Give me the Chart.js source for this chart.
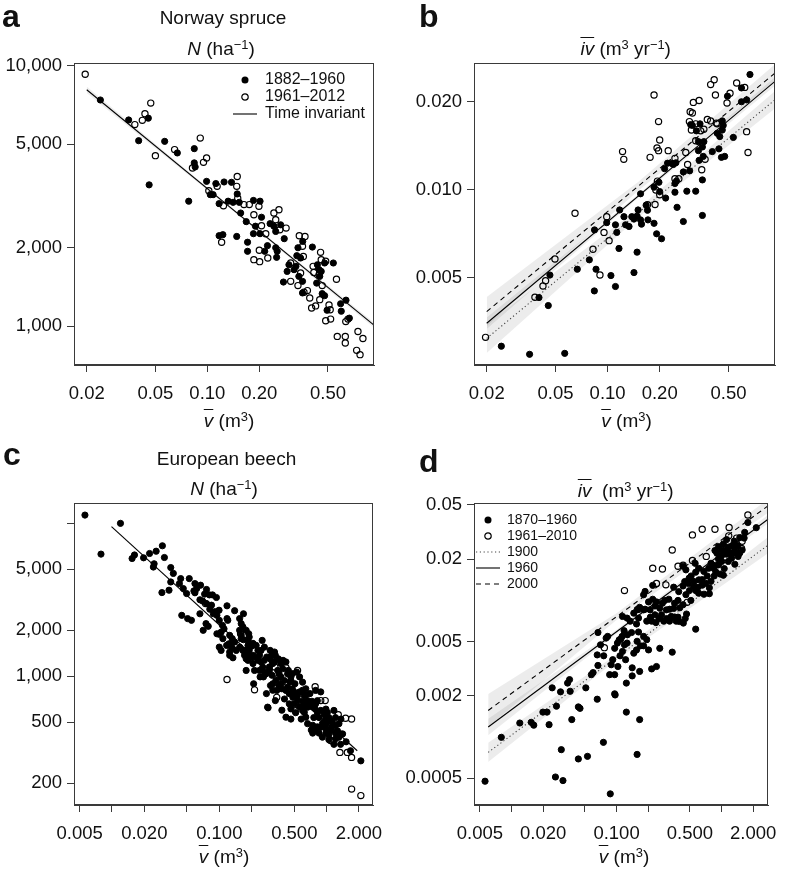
<!DOCTYPE html>
<html><head><meta charset="utf-8">
<script src="https://cdn.jsdelivr.net/npm/chart.js@4.4.1/dist/chart.umd.min.js"></script>
<style>
html,body{margin:0;padding:0;background:#fff;}
#wrap{position:relative;width:788px;height:869px;overflow:hidden;background:#fff;}
canvas{position:absolute;}
.t{position:absolute;white-space:nowrap;line-height:1;font-family:"Liberation Sans",Arial,Helvetica,sans-serif;color:#111;transform:translateX(-50%);font-size:19px;}
.t sup{font-size:0.68em;line-height:0;vertical-align:0.48em;}
.ov{text-decoration:overline;text-decoration-thickness:1px;font-style:italic;}
.lt{position:absolute;font-family:"Liberation Sans",Arial,Helvetica,sans-serif;font-weight:bold;font-size:32px;line-height:1;color:#111;}
</style></head>
<body><div id="wrap">
<canvas id="ca" width="394" height="405" style="left:0;top:0"></canvas>
<canvas id="cb" width="394" height="405" style="left:394px;top:0"></canvas>
<canvas id="cc" width="394" height="405" style="left:0;top:440px"></canvas>
<canvas id="cd" width="394" height="405" style="left:394px;top:440px"></canvas>

<div class="lt" style="left:2px;top:0px">a</div>
<div class="lt" style="left:419px;top:0px">b</div>
<div class="lt" style="left:3px;top:437.9px">c</div>
<div class="lt" style="left:419px;top:444.9px">d</div>

<div class="t" style="left:223px;top:7.9px">Norway spruce</div>
<div class="t" style="left:221px;top:38.9px"><i>N</i> (ha<sup>−1</sup>)</div>
<div class="t" style="left:625.7px;top:38.9px"><span class="ov">iv</span> (m<sup>3</sup> yr<sup>−1</sup>)</div>
<div class="t" style="left:226.5px;top:448.9px">European beech</div>
<div class="t" style="left:224px;top:478.9px"><i>N</i> (ha<sup>−1</sup>)</div>
<div class="t" style="left:625.7px;top:480.6px"><span class="ov">iv</span>&nbsp; (m<sup>3</sup> yr<sup>−1</sup>)</div>

<div class="t" style="left:229px;top:410.6px"><span class="ov">v</span> (m<sup>3</sup>)</div>
<div class="t" style="left:626.5px;top:410.6px"><span class="ov">v</span> (m<sup>3</sup>)</div>
<div class="t" style="left:224px;top:846.9px"><span class="ov">v</span> (m<sup>3</sup>)</div>
<div class="t" style="left:624px;top:846.9px"><span class="ov">v</span> (m<sup>3</sup>)</div>
</div>
<script>
// ---------------- Panel a: Norway spruce, stand density N vs mean tree volume ----------------
const spruceN1882 = [[0.024,7400],[0.035,6200],[0.0455,6300],[0.040,5160],[0.0566,5130],[0.067,4630],[0.046,3490],[0.078,3020],[0.084,4810],[0.084,4240],[0.085,4090],[0.099,3600],[0.104,3200],[0.112,3530],[0.125,3580],[0.138,3570],[0.149,3220],[0.108,3200],[0.117,2955],[0.132,3020],[0.141,2990],[0.153,2990],[0.156,2720],[0.185,3040],[0.202,3020],[0.206,2620],[0.168,2520],[0.190,2420],[0.185,2265],[0.202,2265],[0.231,2475],[0.243,2420],[0.266,2450],[0.249,2310],[0.279,2167],[0.171,2100],[0.171,1938],[0.223,2037],[0.215,1938],[0.249,2000],[0.254,1938],[0.252,1837],[0.148,2210],[0.117,2225],[0.123,2245],[0.357,2115],[0.335,2000],[0.406,2012],[0.33,1864],[0.347,1826],[0.297,1720],[0.326,1696],[0.29,1622],[0.318,1647],[0.339,1552],[0.276,1476],[0.356,1485],[0.356,1340],[0.444,1647],[0.434,1720],[0.448,1552],[0.478,1747],[0.537,1747],[0.457,1622],[0.43,1462],[0.463,1332],[0.478,1308],[0.494,1150],[0.592,1218],[0.636,1257],[0.597,1140],[0.665,1072]];
const spruceN1961 = [[0.0196,9300],[0.038,5950],[0.042,6180],[0.0435,6550],[0.047,7200],[0.050,4520],[0.0646,4770],[0.091,5280],[0.099,4430],[0.095,4260],[0.082,4050],[0.102,3315],[0.114,3445],[0.149,3760],[0.148,3445],[0.150,3100],[0.124,2900],[0.163,2930],[0.175,2930],[0.199,2885],[0.186,2680],[0.206,2430],[0.218,2265],[0.243,2720],[0.26,2800],[0.249,2565],[0.263,2345],[0.286,2380],[0.121,2100],[0.2,1955],[0.186,1800],[0.201,1768],[0.224,1826],[0.341,2225],[0.368,2210],[0.356,2025],[0.453,1920],[0.36,1850],[0.304,1747],[0.347,1598],[0.304,1485],[0.335,1430],[0.363,1348],[0.38,1368],[0.414,1607],[0.41,1696],[0.485,1774],[0.457,1799],[0.444,1575],[0.463,1430],[0.448,1263],[0.392,1282],[0.402,1173],[0.424,1195],[0.507,1205],[0.515,1155],[0.56,1513],[0.485,1048],[0.518,1063],[0.653,1063],[0.634,1040],[0.566,912],[0.63,912],[0.63,860],[0.746,953],[0.797,895],[0.733,806],[0.767,776]];
const spruceNLine = [[0.02,8100],[0.92,1010]];
const spruceNBandHi = [[0.02,8330],[0.15,2729],[0.92,1034]];
const spruceNBandLo = [[0.02,7880],[0.15,2679],[0.92,987]];
const spruceVTicks = [0.02,0.05,0.1,0.2,0.5];
const spruceVLabels = ["0.02","0.05","0.10","0.20","0.50"];
const spruceNTicks = [1000,2000,5000,10000];
const spruceNLabels = ["1,000","2,000","5,000","10,000"];
const spruceNLegend = ["1882\u20131960","1961\u20132012","Time invariant"];

// ---------------- Panel b: Norway spruce, mean volume increment ----------------
const spruceIv1882 = [[0.0243,0.00291],[0.0354,0.00273],[0.0565,0.00275],[0.0454,0.00401],[0.0401,0.00427],[0.0464,0.0051],[0.0668,0.00534],[0.0784,0.00575],[0.0838,0.0045],[0.0857,0.00534],[0.084,0.00728],[0.0988,0.00771],[0.1045,0.00508],[0.111,0.00466],[0.111,0.00758],[0.113,0.00714],[0.1174,0.00852],[0.1163,0.00629],[0.1243,0.00808],[0.127,0.00758],[0.133,0.00748],[0.138,0.00808],[0.142,0.00793],[0.148,0.00812],[0.150,0.00852],[0.155,0.00788],[0.157,0.00762],[0.167,0.00885],[0.171,0.00788],[0.1855,0.00767],[0.192,0.00706],[0.205,0.00679],[0.148,0.00611],[0.142,0.0052],[0.155,0.00968],[0.1855,0.0102],[0.198,0.0106],[0.200,0.00985],[0.2165,0.00936],[0.2135,0.0118],[0.222,0.01232],[0.235,0.0123],[0.24,0.0122],[0.248,0.01236],[0.245,0.0105],[0.25,0.0107],[0.252,0.0087],[0.245,0.0098],[0.274,0.00778],[0.274,0.0115],[0.287,0.00988],[0.298,0.0116],[0.323,0.00988],[0.353,0.0108],[0.353,0.00816],[0.338,0.0126],[0.357,0.0130],[0.335,0.0136],[0.353,0.0140],[0.36,0.0146],[0.335,0.0146],[0.309,0.0166],[0.326,0.0159],[0.342,0.0168],[0.302,0.0167],[0.594,0.0223],[0.665,0.0248],[0.493,0.0209],[0.637,0.0203],[0.594,0.0200],[0.46,0.0172],[0.466,0.0166],[0.43,0.0156],[0.445,0.0152],[0.46,0.0160],[0.533,0.0151],[0.403,0.0135],[0.44,0.0138],[0.455,0.0129],[0.475,0.0130],[0.17,0.0085]];
const spruceIv1961 = [[0.0197,0.00312],[0.038,0.00428],[0.0423,0.00468],[0.0438,0.00488],[0.0496,0.00579],[0.0648,0.0083],[0.0903,0.0051],[0.0823,0.00625],[0.0953,0.00714],[0.0988,0.00808],[0.102,0.00669],[0.170,0.00888],[0.188,0.0089],[0.194,0.0107],[0.19,0.00997],[0.20,0.0096],[0.224,0.0136],[0.245,0.0128],[0.245,0.0109],[0.258,0.0109],[0.29,0.0122],[0.283,0.0134],[0.35,0.0117],[0.366,0.0127],[0.323,0.0147],[0.323,0.0168],[0.305,0.0160],[0.297,0.0171],[0.345,0.0159],[0.36,0.0161],[0.30,0.0185],[0.309,0.0183],[0.313,0.0199],[0.338,0.0202],[0.394,0.0172],[0.425,0.0169],[0.42,0.0211],[0.394,0.0229],[0.413,0.0238],[0.51,0.0214],[0.557,0.0232],[0.62,0.0224],[0.49,0.0198],[0.43,0.0168],[0.636,0.0158],[0.648,0.0134],[0.377,0.0174],[0.197,0.0171],[0.1855,0.0211],[0.2,0.0148],[0.197,0.0136],[0.193,0.0139],[0.176,0.0129],[0.122,0.0135],[0.124,0.0127]];
const spruceIvLine1900 = [[0.02,0.003096],[0.928,0.02032]];
const spruceIvLine1960 = [[0.02,0.003486],[0.928,0.0235]];
const spruceIvLine2000 = [[0.02,0.003823],[0.928,0.02508]];
const spruceIvBand2000Hi = [[0.02,0.00429],[0.15,0.01063],[0.928,0.02687]];
const spruceIvBand2000Lo = [[0.02,0.003407],[0.15,0.00992],[0.928,0.02341]];
const spruceIvBand1960Hi = [[0.02,0.00365],[0.15,0.00963],[0.928,0.02432]];
const spruceIvBand1960Lo = [[0.02,0.00333],[0.15,0.00937],[0.928,0.0227]];
const spruceIvBand1900Hi = [[0.02,0.00347],[0.15,0.0086],[0.928,0.02177]];
const spruceIvBand1900Lo = [[0.02,0.00276],[0.15,0.00803],[0.928,0.01896]];
const spruceIvTicks = [0.005,0.01,0.02];
const spruceIvLabels = ["0.005","0.010","0.020"];

// ---------------- Panel c: European beech, stand density ----------------
const beechN1870 = [[0.0056,11300],[0.012,9975],[0.0079,6280],[0.0154,5880],[0.0162,6200],[0.0197,5940],[0.0224,6340],[0.0258,6560],[0.0295,7120],[0.0308,5970],[0.0247,5430],[0.0243,5170],[0.0353,5130],[0.0373,4700],[0.0353,4130],[0.0437,4345],[0.0425,4030],[0.0525,4345],[0.0292,3520],[0.034,3650],[0.0447,2500],[0.0507,2380],[0.058,3610],[0.0616,3740],[0.0669,3935],[0.0593,3510],[0.066,3160],[0.070,3100],[0.076,3690],[0.0864,3400],[0.094,3270],[0.0846,2913],[0.091,2640],[0.0995,2700],[0.095,2500],[0.118,2885],[0.139,2680],[0.118,2380],[0.120,2320],[0.0752,2206],[0.0789,2120],[0.0708,1996],[0.095,1895],[0.1,1880],[0.104,1940],[0.1107,2040],[0.1547,2380],[0.16,2206],[0.166,2100],[0.178,1996],[0.188,1895],[0.1547,1996],[0.132,1760],[0.125,1590],[0.139,1675],[0.125,1370],[0.144,1475],[0.155,1550],[0.185,1590],[0.19,1475],[0.206,1370],[0.172,1370],[0.178,1300],[0.2207,1590],[0.251,1715],[0.245,1475],[0.263,1550],[0.229,1270],[0.206,1210],[0.213,1091],[0.277,1335],[0.298,1300],[0.333,1370],[0.327,1440],[0.355,1300],[0.315,1210],[0.293,1150],[0.263,1065],[0.258,990],[0.31,1015],[0.36,1040],[0.418,1240],[0.375,990],[0.375,893],[0.383,828],[0.465,990],[0.456,920],[0.525,1065],[0.56,990],[0.48,828],[0.449,770],[0.405,710],[0.333,693],[0.282,628],[0.383,600],[0.485,728],[0.56,790],[0.597,810],[0.64,828],[0.70,770],[0.73,686],[0.64,660],[0.6,686],[0.536,693],[0.59,628],[0.515,578],[0.465,525],[0.58,525],[0.62,580],[0.665,628],[0.742,628],[0.79,660],[0.82,692],[0.882,598],[0.76,537],[0.85,537],[0.95,565],[0.985,530],[0.665,490],[0.742,478],[0.72,445],[0.82,467],[0.914,490],[0.995,490],[1.05,537],[1.17,598],[1.13,500],[1.21,478],[1.304,490],[1.09,445],[0.985,425],[1.05,415],[1.21,425],[1.304,400],[0.914,400],[1.05,385],[1.17,359],[1.35,359],[1.52,373],[0.85,425],[0.742,425],[1.67,326],[2.085,280],[0.285,622],[0.209,893],[0.24,990],[0.3,870],[0.343,808],[0.418,808],[0.449,660],[0.315,893],[0.178,1091],[0.185,1270],[0.117,1590],[0.1,1550],[0.0593,4030],[0.073,3440],[0.081,3400],[0.16,1760],[0.19,1804],[0.229,1475],[0.237,1370],[0.298,1475],[0.31,1370],[0.375,1210],[0.393,1270],[0.48,1040],[0.44,1091],[0.507,893],[0.597,915],[0.64,755],[0.5,660],[0.465,612],[0.418,540],[0.79,808],[0.882,790],[0.82,580],[0.985,610],[1.21,537],[1.36,525],[1.21,390],[1.41,420],[0.985,455],[0.64,540],[0.275,770],[0.337,940],[0.315,810],[0.178,1475],[0.125,1850],[0.108,1760],[0.104,1475],[0.055,2320],[0.088,2560],[0.066,2560],[0.168,2560],[0.206,1640],[0.263,1270],[0.327,1240],[0.123,1630],[0.132,1530],[0.125,1440],[0.134,1320],[0.16,1850],[0.168,1733],[0.185,1716],[0.2,1572],[0.166,1475],[0.185,1368],[0.2,1321],[0.224,1321],[0.245,1241],[0.254,1147],[0.237,1091],[0.273,1037],[0.293,1091],[0.35,1091],[0.39,1119],[0.433,1037],[0.465,938],[0.404,938],[0.359,870],[0.433,848],[0.5,787],[0.536,748],[0.618,748],[0.664,694],[0.696,660],[0.597,597],[0.556,634],[0.781,612],[1.017,580],[1.09,513],[0.947,500],[0.882,464],[0.79,441],[1.113,464],[1.26,441],[1.35,420],[0.0462,3740],[0.0496,3470],[0.076,2983],[0.0816,2740],[0.1,2320],[0.107,2150]];
const beechN1961 = [[0.0744,2983],[0.158,1895],[0.31,1270],[0.33,1150],[0.418,1135],[0.536,1091],[0.343,728],[0.782,855],[0.51,595],[0.882,693],[0.97,693],[1.284,560],[1.503,531],[1.709,525],[1.09,380],[1.33,318],[1.56,318],[1.709,295],[1.71,183],[2.085,166],[0.118,952],[0.213,815]];
const beechNLine = [[0.0099,9490],[1.93,326]];
const beechVTicks = [0.005,0.01,0.02,0.05,0.1,0.2,0.5,1,2];
const beechVLabels = ["0.005","","0.020","","0.100","","0.500","","2.000"];
const beechNTicks = [200,500,1000,2000,5000,10000];
const beechNLabels = ["200","500","1,000","2,000","5,000",""];

// ---------------- Panel d: European beech, mean volume increment ----------------
const beechIv1870 = [[0.0056,0.000474],[0.008,0.000994],[0.012,0.001265],[0.0154,0.00128],[0.0163,0.00122],[0.0228,0.00123],[0.0199,0.00152],[0.0218,0.00152],[0.0268,0.00168],[0.0244,0.00229],[0.0293,0.00214],[0.0342,0.00248],[0.0357,0.00263],[0.0362,0.00216],[0.0375,0.00134],[0.0433,0.00166],[0.0449,0.00162],[0.051,0.00229],[0.0655,0.00189],[0.0576,0.00286],[0.0598,0.00296],[0.0665,0.00334],[0.0665,0.00582],[0.0704,0.00473],[0.0755,0.00393],[0.0796,0.0053],[0.086,0.00286],[0.096,0.00286],[0.096,0.00207],[0.097,0.00203],[0.089,0.00338],[0.092,0.00368],[0.103,0.00328],[0.108,0.00393],[0.1096,0.0052],[0.118,0.006],[0.119,0.00473],[0.122,0.00368],[0.124,0.00248],[0.124,0.00152],[0.141,0.00321],[0.141,0.0028],[0.139,0.00582],[0.146,0.00411],[0.155,0.00434],[0.157,0.00502],[0.162,0.00587],[0.166,0.00302],[0.166,0.00134],[0.157,0.000745],[0.169,0.00465],[0.181,0.00465],[0.181,0.00545],[0.194,0.00516],[0.2017,0.00434],[0.216,0.00315],[0.24,0.00328],[0.258,0.00446],[0.339,0.00418],[0.567,0.00616],[0.075,0.000913],[0.0298,0.000807],[0.0433,0.00069],[0.0529,0.000721],[0.0262,0.000509],[0.0309,0.000479],[0.0872,0.000383],[0.0655,0.00399],[0.096,0.00446],[0.106,0.00514],[0.113,0.00545],[0.181,0.011],[0.2017,0.00975],[0.221,0.0102],[0.24,0.00975],[0.232,0.0091],[0.2735,0.00954],[0.258,0.00877],[0.187,0.00862],[0.21,0.00754],[0.194,0.00705],[0.216,0.00705],[0.237,0.00688],[0.254,0.00737],[0.282,0.00705],[0.3,0.00737],[0.32,0.00705],[0.357,0.00754],[0.385,0.00754],[0.37,0.00705],[0.32,0.00862],[0.35,0.00874],[0.4,0.00883],[0.451,0.00737],[0.464,0.00795],[0.357,0.00954],[0.385,0.01],[0.43,0.0093],[0.315,0.0102],[0.288,0.01],[0.391,0.0116],[0.43,0.01276],[0.446,0.01375],[0.486,0.0133],[0.494,0.0118],[0.54,0.01264],[0.567,0.0118],[0.596,0.0125],[0.654,0.01293],[0.605,0.0113],[0.68,0.0111],[0.765,0.0112],[0.765,0.01237],[0.706,0.01335],[0.793,0.0138],[0.513,0.0151],[0.567,0.0161],[0.605,0.0172],[0.56,0.0187],[0.4575,0.01674],[0.654,0.0142],[0.73,0.0151],[0.85,0.0151],[0.88,0.0162],[0.97,0.0156],[1.04,0.0153],[1.06,0.0171],[0.88,0.0181],[0.793,0.0187],[0.935,0.0201],[1.0,0.0212],[1.118,0.0218],[1.2,0.0224],[1.29,0.0222],[1.38,0.0224],[1.337,0.0234],[1.08,0.0234],[1.16,0.0246],[1.26,0.0252],[1.43,0.0252],[1.04,0.0259],[0.935,0.0248],[0.865,0.0232],[1.118,0.0279],[1.32,0.0272],[1.49,0.0289],[1.66,0.0315],[1.64,0.0286],[1.78,0.0372],[2.14,0.0341],[1.337,0.0184],[1.57,0.0234],[0.43,0.0178],[0.4575,0.01102],[0.51,0.01],[0.35,0.0125],[0.221,0.01289],[0.187,0.01163],[0.166,0.0089],[0.157,0.00856],[0.155,0.00672],[0.135,0.00705],[0.127,0.0056],[0.114,0.00763],[0.126,0.00742],[0.146,0.00807],[0.162,0.00742],[0.181,0.00853],[0.2085,0.00853],[0.232,0.00785],[0.268,0.00785],[0.298,0.00853],[0.332,0.00763],[0.397,0.00701],[0.4325,0.00682],[0.491,0.01455],[0.547,0.01376],[0.609,0.01415],[0.678,0.0163],[0.7545,0.0172],[0.84,0.0172],[0.935,0.0182],[1.004,0.0193],[1.159,0.0193],[1.245,0.0204],[1.436,0.021],[1.488,0.0222],[0.902,0.0222],[1.004,0.0234],[0.0823,0.00545],[0.102,0.00487],[0.126,0.00487],[0.114,0.00423]];
const beechIv1961 = [[0.528,0.0302],[0.654,0.0332],[0.865,0.0332],[1.18,0.0342],[1.78,0.0422],[1.17,0.0297],[1.39,0.0286],[1.57,0.0271],[1.55,0.024],[0.339,0.0234],[0.221,0.0172],[0.2735,0.017],[0.385,0.0178],[0.43,0.0181],[0.528,0.0196],[0.715,0.021],[0.119,0.0118],[0.24,0.0133],[0.295,0.013],[0.162,0.00862],[0.47,0.00968],[0.0766,0.00451]];
const beechIvLine1900 = [[0.006,0.000771],[2.79,0.0255]];
const beechIvLine1960 = [[0.006,0.001182],[2.79,0.0395]];
const beechIvLine2000 = [[0.006,0.001564],[2.79,0.04946]];
const beechIvBand2000Hi = [[0.006,0.002062],[0.1,0.00806],[2.79,0.0555]];
const beechIvBand2000Lo = [[0.006,0.001187],[0.1,0.00719],[2.79,0.04408]];
const beechIvBand1960Hi = [[0.006,0.001357],[0.1,0.00611],[2.79,0.04234]];
const beechIvBand1960Lo = [[0.006,0.00103],[0.1,0.0057],[2.79,0.03685]];
const beechIvBand1900Hi = [[0.006,0.000906],[0.1,0.00401],[2.79,0.02927]];
const beechIvBand1900Lo = [[0.006,0.000656],[0.1,0.00366],[2.79,0.02221]];
const beechIvTicks = [0.0005,0.002,0.005,0.02,0.05];
const beechIvLabels = ["0.0005","0.002","0.005","0.02","0.05"];
const beechIvLegend = ["1870\u20131960","1961\u20132010","1900","1960","2000"];

// ---------------- rendering ----------------
const FONT = '"Liberation Sans", Arial, Helvetica, sans-serif';
const INK = '#111';
const AXIS = '#3a3a3a';
const BAND = 'rgba(0,0,0,0.075)';
const DASH = [5, 4];
const DOT = [1.2, 2.6];
const pts = a => a.map(([x, y]) => ({x, y}));

const dots = data => ({ data: pts(data), showLine: false, pointRadius: 3.1, pointBorderWidth: 1, pointBackgroundColor: '#000', pointBorderColor: '#000', order: 0.2 });
const rings = data => ({ data: pts(data), showLine: false, pointRadius: 3.1, pointBorderWidth: 1.2, pointBackgroundColor: 'rgba(0,0,0,0)', pointBorderColor: '#000', order: 0.1 });
const line = (data, dash, color) => ({ type: 'line', data: pts(data), borderColor: color || '#000', borderWidth: 1.1, borderDash: dash || [], pointRadius: 0, fill: false, tension: 0, order: 1 });
const band = (hi, lo) => [
  { type: 'line', data: pts(hi), borderColor: 'rgba(0,0,0,0)', borderWidth: 0.01, pointRadius: 0, tension: 0, fill: '+1', backgroundColor: BAND, order: 2 },
  { type: 'line', data: pts(lo), borderColor: 'rgba(0,0,0,0)', borderWidth: 0.01, pointRadius: 0, tension: 0, fill: false, order: 2 }
];

function symbol(kind, dash) {
  const c = document.createElement('canvas');
  if (kind === 'dot' || kind === 'ring') {
    c.width = 10; c.height = 10;
    const g = c.getContext('2d');
    g.beginPath(); g.arc(5, 5, kind === 'dot' ? 3.5 : 3.2, 0, Math.PI * 2);
    if (kind === 'dot') { g.fillStyle = '#000'; g.fill(); } else { g.lineWidth = 1.2; g.strokeStyle = '#000'; g.stroke(); }
  } else {
    c.width = 24; c.height = 4;
    const g = c.getContext('2d');
    g.strokeStyle = kind === 'dotline' ? '#444' : '#000'; g.lineWidth = 1.1; g.setLineDash(dash || []);
    g.beginPath(); g.moveTo(0, 2); g.lineTo(24, 2); g.stroke();
  }
  return c;
}

const framePlugin = {
  id: 'frame',
  afterDraw(chart) {
    const {ctx, chartArea: a} = chart;
    ctx.save();
    ctx.strokeStyle = AXIS; ctx.lineWidth = 1;
    const l = Math.round(a.left) + 0.5, t = Math.round(a.top) + 0.5, r = Math.round(a.right) - 0.5, b = Math.round(a.bottom) - 0.5;
    ctx.strokeRect(l, t, r - l, b - t);
    ctx.restore();
  }
};
const legendPlacePlugin = {
  id: 'legendPlace',
  afterLayout(chart, args, opts) {
    const L = chart.legend;
    if (!L || !opts || opts.dx === undefined) return;
    const ca = chart.chartArea;
    L.left = ca.left + opts.dx; L.top = ca.top + opts.dy; L.right = ca.right; L.bottom = ca.bottom;
  }
};

function axis(dir, a) {
  return {
    type: 'logarithmic', position: dir === 'x' ? 'bottom' : 'left', min: a.min, max: a.max, bounds: 'data',
    afterBuildTicks: s => { s.ticks = a.ticks.map(v => ({value: v})); },
    afterFit: s => { if (dir === 'x') s.height = a.size; else s.width = a.size; },
    ticks: { autoSkip: false, maxRotation: 0, minRotation: 0, padding: dir === 'x' ? 11 : 5, color: INK,
             font: {family: FONT, size: 18.5}, callback: (v, i) => a.labels[i] },
    grid: { display: true, drawOnChartArea: false, drawTicks: true, tickLength: 7, color: AXIS, lineWidth: 1 },
    border: { display: true, color: AXIS, width: 1 }
  };
}

function legendCfg(texts, syms, size, pad) {
  return {
    display: true, position: 'chartArea', align: 'start',
    labels: {
      usePointStyle: true, pointStyleWidth: 24, padding: pad, color: INK, font: {family: FONT, size: size},
      generateLabels: () => texts.map((t, i) => ({ text: t, pointStyle: syms[i], hidden: false, lineWidth: 0, fontColor: INK, datasetIndex: i }))
    }
  };
}

function makeChart(id, c) {
  return new Chart(document.getElementById(id), {
    type: 'scatter',
    data: { datasets: c.datasets },
    options: {
      responsive: false, animation: false, devicePixelRatio: 1, events: [],
      layout: { padding: c.padding },
      plugins: {
        legend: c.legend || {display: false},
        tooltip: {enabled: false},
        legendPlace: c.place || false
      },
      scales: { x: axis('x', c.x), y: axis('y', c.y) }
    },
    plugins: [framePlugin, legendPlacePlugin]
  });
}

// Panel a
makeChart('ca', {
  padding: {left: 0, right: 20, top: 63, bottom: 0},
  x: {min: 0.01688, max: 0.924, ticks: spruceVTicks, labels: spruceVLabels, size: 40},
  y: {min: 708, max: 10268, ticks: spruceNTicks, labels: spruceNLabels, size: 74},
  datasets: [dots(spruceN1882), rings(spruceN1961), line(spruceNLine), ...band(spruceNBandHi, spruceNBandLo)],
  legend: legendCfg(spruceNLegend, [symbol('dot'), symbol('ring'), symbol('line')], 16, 1),
  place: {dx: 158, dy: 8}
});

// Panel b
makeChart('cb', {
  padding: {left: 0, right: 13, top: 63, bottom: 0},
  x: {min: 0.01689, max: 0.928, ticks: spruceVTicks, labels: spruceVLabels, size: 40},
  y: {min: 0.002509, max: 0.02715, ticks: spruceIvTicks, labels: spruceIvLabels, size: 80},
  datasets: [dots(spruceIv1882), rings(spruceIv1961),
    line(spruceIvLine1900, DOT, '#444'), line(spruceIvLine1960), line(spruceIvLine2000, DASH),
    ...band(spruceIvBand2000Hi, spruceIvBand2000Lo), ...band(spruceIvBand1960Hi, spruceIvBand1960Lo), ...band(spruceIvBand1900Hi, spruceIvBand1900Lo)]
});

// Panel c
makeChart('cc', {
  padding: {left: 0, right: 20, top: 63.3, bottom: 0},
  x: {min: 0.004427, max: 2.713, ticks: beechVTicks, labels: beechVLabels, size: 40},
  y: {min: 144.1, max: 13490, ticks: beechNTicks, labels: beechNLabels, size: 74},
  datasets: [dots(beechN1870), rings(beechN1961), line(beechNLine)]
});

// Panel d
makeChart('cd', {
  padding: {left: 0, right: 13, top: 63.3, bottom: 0},
  x: {min: 0.004396, max: 2.777, ticks: beechVTicks, labels: beechVLabels, size: 40},
  y: {min: 0.0003174, max: 0.05144, ticks: beechIvTicks, labels: beechIvLabels, size: 80},
  datasets: [dots(beechIv1870), rings(beechIv1961),
    line(beechIvLine1900, DOT, '#444'), line(beechIvLine1960), line(beechIvLine2000, DASH),
    ...band(beechIvBand2000Hi, beechIvBand2000Lo), ...band(beechIvBand1960Hi, beechIvBand1960Lo), ...band(beechIvBand1900Hi, beechIvBand1900Lo)],
  legend: legendCfg(beechIvLegend, [symbol('dot'), symbol('ring'), symbol('dotline', DOT), symbol('line'), symbol('line', DASH)], 14, 2),
  place: {dx: 0, dy: 7.7}
});
</script>
</body></html>
